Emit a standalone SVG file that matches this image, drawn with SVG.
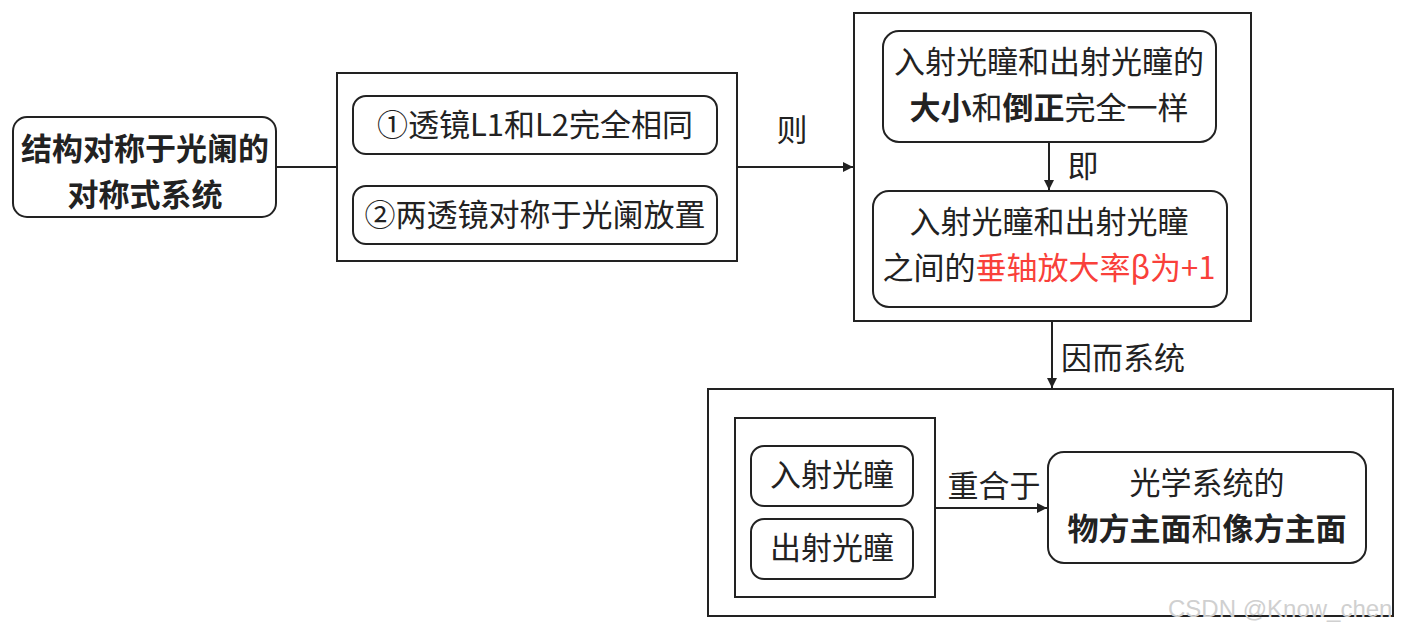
<svg xmlns="http://www.w3.org/2000/svg" width="1405" height="634" viewBox="0 0 1405 634">
<style>
.box{fill:#fff;stroke:#222;stroke-width:2}
.rbox{fill:#fff;stroke:#222;stroke-width:2}
.t{font-family:"Noto Sans CJK SC","Noto Sans",sans-serif;font-size:31px;fill:#222;text-anchor:middle;dominant-baseline:central}
.b{font-weight:bold}
.red{fill:#f9403a}
.c{stroke:#222;stroke-width:2;fill:none}
.wm{font-family:"Liberation Sans",sans-serif;font-size:24px;fill:#d0d0d0}
</style>
<defs>
<marker id="ah" viewBox="0 0 10 10" refX="10" refY="5" markerWidth="10" markerHeight="10" markerUnits="userSpaceOnUse" orient="auto">
<path d="M0,0 L10,5 L0,10 z" fill="#222"/>
</marker>
</defs>
<rect width="1405" height="634" fill="#fff"/>

<g id="node-symmetric">
<rect class="rbox" x="13" y="117" width="263" height="100" rx="14"/>
<text class="t b" x="145" y="146">结构对称于光阑的</text>
<text class="t b" x="145" y="192">对称式系统</text>
</g>

<g id="group-conditions">
<rect class="box" x="337" y="73" width="400" height="188"/>
</g>
<g id="node-cond1">
<rect class="rbox" x="353" y="96" width="364" height="58" rx="13"/>
<text class="t" x="535" y="122">①透镜L1和L2完全相同</text>
</g>
<g id="node-cond2">
<rect class="rbox" x="353" y="186" width="364" height="58" rx="13"/>
<text class="t" x="535" y="212">②两透镜对称于光阑放置</text>
</g>

<g id="group-pupils">
<rect class="box" x="854" y="13" width="397" height="308"/>
</g>
<g id="node-same">
<rect class="rbox" x="883" y="31" width="333" height="111" rx="16"/>
<text class="t" x="1049" y="59">入射光瞳和出射光瞳的</text>
<text class="t" x="1049" y="105"><tspan class="b">大小</tspan>和<tspan class="b">倒正</tspan>完全一样</text>
</g>
<g id="node-beta">
<rect class="rbox" x="873" y="191" width="354" height="116" rx="16"/>
<text class="t" x="1049" y="219">入射光瞳和出射光瞳</text>
<text class="t" x="1049" y="265">之间的<tspan class="red">垂轴放大率β为+1</tspan></text>
</g>

<g id="group-result">
<rect class="box" x="708" y="389" width="685" height="227"/>
</g>
<g id="group-pupil-pair">
<rect class="box" x="735" y="418" width="200" height="179"/>
</g>
<g id="node-entrance">
<rect class="rbox" x="751" y="446" width="162" height="60" rx="13"/>
<text class="t" x="832" y="472">入射光瞳</text>
</g>
<g id="node-exit">
<rect class="rbox" x="751" y="519" width="162" height="60" rx="13"/>
<text class="t" x="832" y="545">出射光瞳</text>
</g>
<g id="node-principal">
<rect class="rbox" x="1048" y="452" width="318" height="111" rx="16"/>
<text class="t" x="1207" y="480">光学系统的</text>
<text class="t" x="1207" y="526"><tspan class="b">物方主面</tspan>和<tspan class="b">像方主面</tspan></text>
</g>

<g id="connectors">
<line class="c" x1="276" y1="167" x2="337" y2="167"/>
<line class="c" x1="737" y1="167" x2="853" y2="167" marker-end="url(#ah)"/>
<line class="c" x1="1049" y1="143" x2="1049" y2="190" marker-end="url(#ah)"/>
<line class="c" x1="1052" y1="322" x2="1052" y2="388" marker-end="url(#ah)"/>
<line class="c" x1="935" y1="508" x2="1047" y2="508" marker-end="url(#ah)"/>
<text class="t" x="792" y="127">则</text>
<text class="t" x="1083" y="163">即</text>
<text class="t" x="1123" y="355">因而系统</text>
<text class="t" x="994" y="483">重合于</text>
</g>

<text class="wm" x="1168" y="617">CSDN @Know_chen</text>
</svg>
